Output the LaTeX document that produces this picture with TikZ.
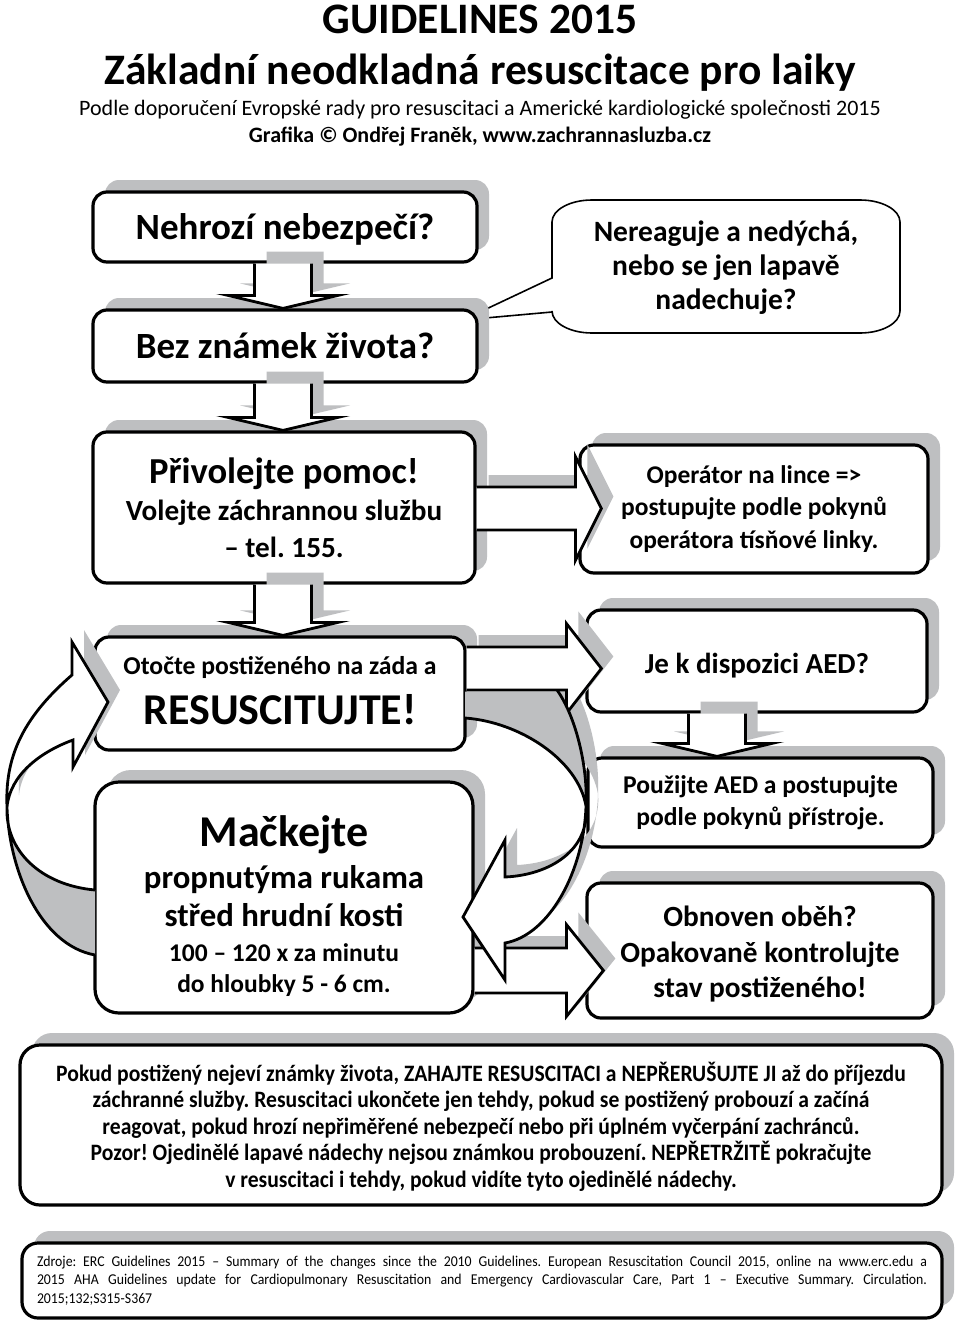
\documentclass[tikz,border=0pt]{standalone}
\usepackage{fontspec}
\setmainfont{Carlito}
\newfontfamily\condfont[FakeStretch=0.92]{Carlito}
\usetikzlibrary{calc,shadows}
\definecolor{shc}{RGB}{190,191,193}
\frenchspacing
\newcommand\fsz[2]{\fontsize{#1}{#2}\selectfont}
\newcommand\bx[2]{\bfseries\fontsize{#1}{#2}\selectfont}
\tikzset{
  box/.style={draw=black, line width=3.2pt, fill=white, rounded corners=14pt,
    general shadow={fill=shc, shadow xshift=12pt, shadow yshift=12pt},
    align=center, inner sep=0pt},
  blk/.style={draw=black, line width=2.8pt, line join=miter, miter limit=20},
  shad/.style={fill=shc},
  rib/.style={draw=black, line width=2.8pt, line join=miter},
}
% vertical block arrow outline
\newcommand\vpoly[3]{($(#1)+(-28.5pt,0pt)$) -- ($(#2)+(-28.5pt,13pt)$) -- ($(#2)+(-55pt,13pt)$) -- (#2) -- ($(#2)+(55pt,13pt)$) -- ($(#2)+(28.5pt,13pt)$) -- ($(#1)+(28.5pt,0pt)$) #3}
\newcommand\varr[3][0pt]{%
  \coordinate (vs) at ($(#2.south)+(#1,0pt)$);
  \coordinate (vt) at (vs |- #3.north);
  \coordinate (vsS) at ($(vs)+(12pt,12pt)$);
  \coordinate (vtS) at ($(vt)+(12pt,12pt)$);
  \fill[shad] \vpoly{vsS}{vtS}{-- cycle};
  \fill[white] \vpoly{vs}{vt}{-- cycle};
  \draw[blk] \vpoly{vs}{vt}{};
}
% horizontal block arrow outline
\newcommand\hpoly[6]{($(#1)+(0pt,#3)$) -- ($(#2)+(-#5,#3)$) -- ($(#2)+(-#5,#4)$) -- (#2) -- ($(#2)+(-#5,-#4)$) -- ($(#2)+(-#5,-#3)$) -- ($(#1)+(0pt,-#3)$) #6}
\newcommand\harr[7]{%
  \coordinate (hs) at ($(#1.east)+(0pt,#3)$);
  \coordinate (hx) at (#2.west |- hs);
  \coordinate (ht) at ($(hx)+(#4,0pt)$);
  \coordinate (hsS) at ($(hs)+(12pt,12pt)$);
  \coordinate (htS) at ($(ht)+(12pt,12pt)$);
  \fill[shad] \hpoly{hsS}{htS}{#5}{#6}{#7}{-- cycle};
  \fill[white] \hpoly{hs}{ht}{#5}{#6}{#7}{-- cycle};
  \draw[blk] \hpoly{hs}{ht}{#5}{#6}{#7}{};
}
% ribbon (loop arrow) outlines
\def\LRup{(7,807) .. controls (10,775) and (40,752) .. (73,740) -- (73,767) -- (108,702) -- (72,642) -- (72,675) .. controls (20,720) and (5,760) .. (7,807) -- cycle}
\def\LRlow{(7,807) .. controls (9,870) and (40,945) .. (95,955) -- (95,890) .. controls (40,885) and (5,850) .. (7,807) -- cycle}
\def\RRgray{(465,691.5) -- (557,691.5) .. controls (575,715) and (588,765) .. (586,806) .. controls (578,760) and (520,722) .. (465,718) -- cycle}
\def\RRwhite{(586,806) .. controls (584,870) and (550,935) .. (505,943) -- (505,980) -- (463,917) -- (505,840) -- (505,877) .. controls (550,875) and (590,850) .. (586,806) -- cycle}

\begin{document}
\begin{tikzpicture}[x=1pt,y=-1pt]
\useasboundingbox (0,0) rectangle (960,1328);
\fill[white] (0,0) rectangle (960,1328);

% ---- titles
\node[font=\bx{43.5}{46}] (t1) at (480,19) {GUIDELINES 2015};
\node[font=\bx{43.5}{46}] (t2) at (480,73) {Základní neodkladná resuscitace pro laiky};
\node[font=\fsz{22}{24}] (t3) at (480,110) {Podle doporučení Evropské rady pro resuscitaci a Americké kardiologické společnosti 2015};
\node[font=\bx{22}{24}] (t4) at (480,137) {Grafika © Ondřej Franěk, www.zachrannasluzba.cz};

% ---- speech bubble
\coordinate (tailtip) at (463,320);
\filldraw[draw=black, line width=1.6pt, fill=white]
  (592,200) -- (860,200) arc[start angle=-90, end angle=0, x radius=40, y radius=22]
  -- (900,311) arc[start angle=0, end angle=90, x radius=40, y radius=22]
  -- (592,333) arc[start angle=90, end angle=180, x radius=40, y radius=22]
  -- (552,312) -- (tailtip) -- (552,278)
  -- (552,222) arc[start angle=180, end angle=270, x radius=40, y radius=22] -- cycle;
\node[font=\bx{29.5}{34}, align=center] (bub) at (726,267.5) {Nereaguje a nedýchá,\\nebo se jen lapavě\\nadechuje?};

% ---- boxes
\node[box, minimum width=384pt, minimum height=70pt, font=\bx{37}{40}] (b1) at (285,227) {\rule{0pt}{30pt}Nehrozí nebezpečí?};
\node[box, minimum width=384pt, minimum height=72pt, font=\bx{37}{40}] (b2) at (285,346) {Bez známek života?};
\node[box, minimum width=382pt, minimum height=151pt, font=\bx{29.2}{37}] (b3) at (284,507.5)
  {{\fsz{36.6}{37}Přivolejte pomoc!}\\Volejte záchrannou službu\\– tel. 155.};
\node[box, minimum width=348pt, minimum height=128pt, font=\bx{25.5}{32.5}] (op) at (754,509)
  {Operátor na lince =>\\postupujte podle pokynů\\operátora tísňové linky.};
\node[box, minimum width=370pt, minimum height=113pt, font=\bx{25.7}{50}] (b4) at (280,693.5)
  {Otočte postiženého na záda a\\{\fsz{44}{50}RESUSCITUJTE!}\rule[-7pt]{0pt}{1pt}};
\node[box, rounded corners=24pt, minimum width=378pt, minimum height=231pt, font=\bx{32.8}{38}] (b5) at (284,897.5)
  {\rule{0pt}{47pt}{\fsz{44}{38}Mačkejte}\\[4pt]propnutýma rukama\\střed hrudní kosti\\[-3pt]{\fsz{25.5}{38}100 – 120 x za minutu}\\[-7pt]{\fsz{25.5}{38}do hloubky 5 - 6 cm.}};
\node[box, minimum width=340pt, minimum height=102pt, font=\bx{29}{32}] (aed) at (757,661) {\rule{0pt}{30pt}Je k dispozici AED?};
\node[box, minimum width=345pt, minimum height=89pt, font=\bx{25.6}{32}] (use) at (760.5,802.5)
  {Použijte AED a postupujte\\podle pokynů přístroje.};
\node[box, minimum width=346pt, minimum height=135pt, font=\bx{29.3}{35.5}] (obn) at (760,950.5)
  {\rule{0pt}{28pt}Obnoven oběh?\\Opakovaně kontrolujte\\stav postiženého!};
\node[box, rounded corners=20pt, minimum width=922pt, minimum height=160pt, font=\condfont\bfseries\fsz{23.5}{26.5}] (note) at (481,1125)
  {\rule{0pt}{22pt}Pokud postižený nejeví známky života, ZAHAJTE RESUSCITACI a NEPŘERUŠUJTE JI až do příjezdu\\
   záchranné služby. Resuscitaci ukončete jen tehdy, pokud se postižený probouzí a začíná\\
   reagovat, pokud hrozí nepřiměřené nebezpečí nebo při úplném vyčerpání zachránců.\\
   Pozor! Ojedinělé lapavé nádechy nejsou známkou probouzení. NEPŘETRŽITĚ pokračujte\\
   v resuscitaci i tehdy, pokud vidíte tyto ojedinělé nádechy.};
\node[box, rounded corners=16pt, minimum width=920pt, minimum height=75pt, align=left, font=\condfont\fsz{15}{18.5}] (src) at (482,1280.5)
  {\makebox[890pt][s]{Zdroje: ERC Guidelines 2015 – Summary of the changes since the 2010 Guidelines. European Resuscitation Council 2015, online na www.erc.edu a}\\
   \makebox[890pt][s]{2015 AHA Guidelines update for Cardiopulmonary Resuscitation and Emergency Cardiovascular Care, Part 1 – Executive Summary. Circulation.}\\
   \makebox[890pt][l]{2015;132;S315-S367}};

% ---- shadows of the loop arrows
\begin{scope}[shift={(12,-12)}]
  \fill[shad] \LRup;
  \fill[shad] \RRgray;
  \fill[shad] \RRwhite;
\end{scope}

% ---- block arrows between boxes
\varr[-2pt]{b1}{b2}
\varr[-2pt]{b2}{b3}
\varr[-1pt]{b3}{b4}
\varr[-40pt]{aed}{use}
\harr{b3}{op}{-1pt}{23pt}{21.5pt}{52pt}{26pt}
\harr{b4}{aed}{25pt}{16pt}{21.5pt}{45pt}{35pt}
\harr{b5}{obn}{-73pt}{18pt}{22.5pt}{46pt}{37pt}

% ---- loop arrows (twisted ribbons)
\fill[white] \LRup;
\fill[shad] \LRlow;
\draw[rib] (95,890) .. controls (40,885) and (5,850) .. (7,807) .. controls (10,775) and (40,752) .. (73,740)
  -- (73,767) -- (108,702) -- (72,642) -- (72,675) .. controls (20,720) and (5,760) .. (7,807)
  .. controls (9,870) and (40,945) .. (95,955);
\fill[shad] \RRgray;
\fill[white] \RRwhite;
\draw[rib] (465,718) .. controls (520,722) and (578,760) .. (586,806) .. controls (590,850) and (550,875) .. (505,877)
  -- (505,840) -- (463,917) -- (505,980) -- (505,943) .. controls (550,935) and (584,870) .. (586,806)
  .. controls (588,765) and (575,715) .. (557,690);
\end{tikzpicture}
\end{document}
